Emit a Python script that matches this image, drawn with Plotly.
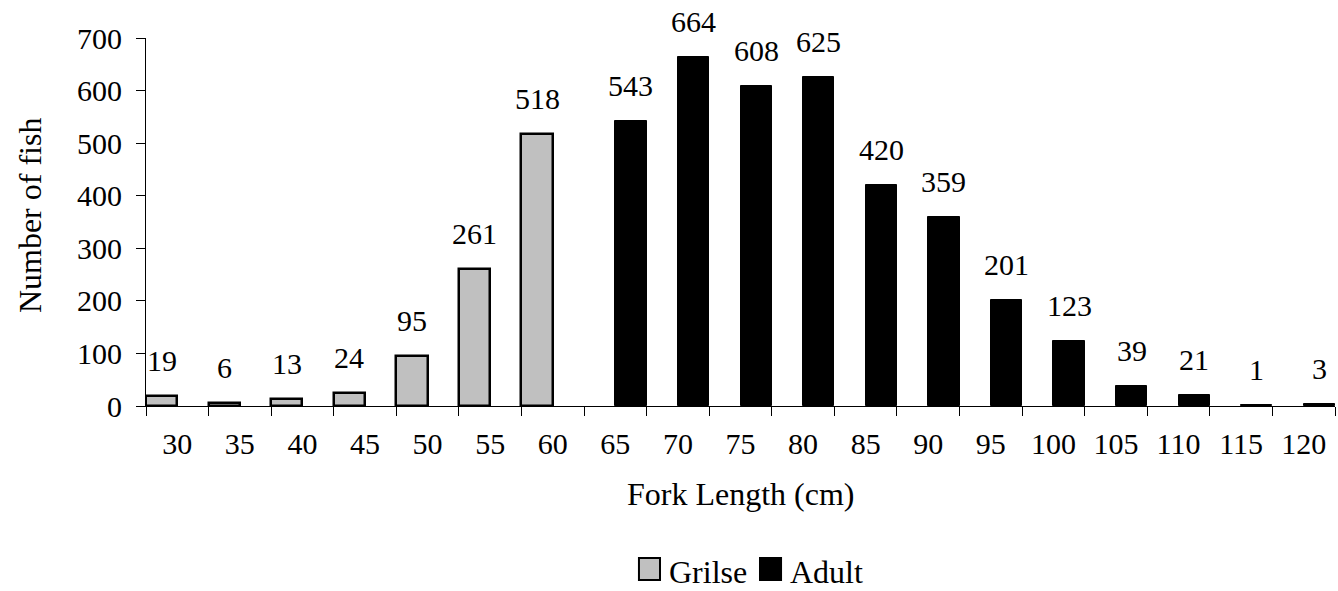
import plotly.graph_objects as go

# Fork length classes (cm) and fish counts per class
lengths = ["30", "35", "40", "45", "50", "55", "60", "65", "70", "75",
           "80", "85", "90", "95", "100", "105", "110", "115", "120"]
grilse = [19, 6, 13, 24, 95, 261, 518, None, None, None,
          None, None, None, None, None, None, None, None, None]
adult = [None, None, None, None, None, None, None, 543, 664, 608,
         625, 420, 359, 201, 123, 39, 21, 1, 3]

FONT = "Liberation Serif"
FS = 30
GREY = "#c0c0c0"

fig = go.Figure()
fig.add_trace(go.Bar(
    name="Grilse", x=lengths, y=grilse,
    marker=dict(color=GREY, line=dict(color="black", width=2.5)),
))
fig.add_trace(go.Bar(
    name="Adult", x=lengths, y=adult,
    marker=dict(color="black", line=dict(color="black", width=1)),
))

# value labels above each bar, placed by category index and shifted into
# the bar's slot within its group
annotations = []
for series, shift in ((grilse, -15.65), (adult, 15.65)):
    for idx, val in enumerate(series):
        if val is None:
            continue
        annotations.append(dict(
            x=idx, y=val, xref="x", yref="y", text=str(val),
            showarrow=False, xshift=shift, yshift=17, yanchor="bottom",
            font=dict(family=FONT, size=FS, color="black"),
        ))

annotations.append(dict(
    x=0.5, y=-0.24, xref="paper", yref="paper", text="Fork Length (cm)",
    showarrow=False, xanchor="center", yanchor="middle",
    font=dict(family=FONT, size=32, color="black"),
))
annotations.append(dict(
    x=-0.098, y=0.52, xref="paper", yref="paper", text="Number of fish",
    showarrow=False, xanchor="center", yanchor="middle", textangle=-90,
    font=dict(family=FONT, size=32, color="black"),
))

# legend: swatch + series name
legend_items = [("Grilse", GREY, 0.4146, 0.4382), ("Adult", "black", 0.5164, 0.540)]
shapes = []
for name, color, sx, tx in legend_items:
    shapes.append(dict(
        type="rect", xref="paper", yref="paper",
        x0=sx, x1=sx + 0.0177, y0=-0.4728, y1=-0.413,
        fillcolor=color, line=dict(color="black", width=2),
    ))
    annotations.append(dict(
        x=tx, y=-0.451, xref="paper", yref="paper", text=name,
        showarrow=False, xanchor="left", yanchor="middle",
        font=dict(family=FONT, size=32, color="black"),
    ))

fig.update_layout(
    width=1338, height=591,
    margin=dict(l=146, r=3, t=38, b=185),
    paper_bgcolor="white", plot_bgcolor="white",
    barmode="group", bargap=0, bargroupgap=0,
    font=dict(family=FONT, size=FS, color="black"),
    annotations=annotations, shapes=shapes,
    showlegend=False,
)
fig.update_xaxes(
    type="category", range=[-0.5, 18.5], tickson="boundaries",
    ticks="outside", ticklen=9, tickangle=0,
    tickcolor="black", showline=True, linecolor="black", linewidth=1,
    showgrid=False, ticklabelstandoff=11,
    tickfont=dict(family=FONT, size=FS, color="black"),
)
fig.update_yaxes(
    range=[0, 700], dtick=100, ticks="outside", ticklen=9, tickcolor="black",
    showline=True, linecolor="black", linewidth=1, showgrid=False,
    zeroline=False, ticklabelstandoff=8,
    tickfont=dict(family=FONT, size=FS, color="black"),
)

fig.write_html("out.html")
